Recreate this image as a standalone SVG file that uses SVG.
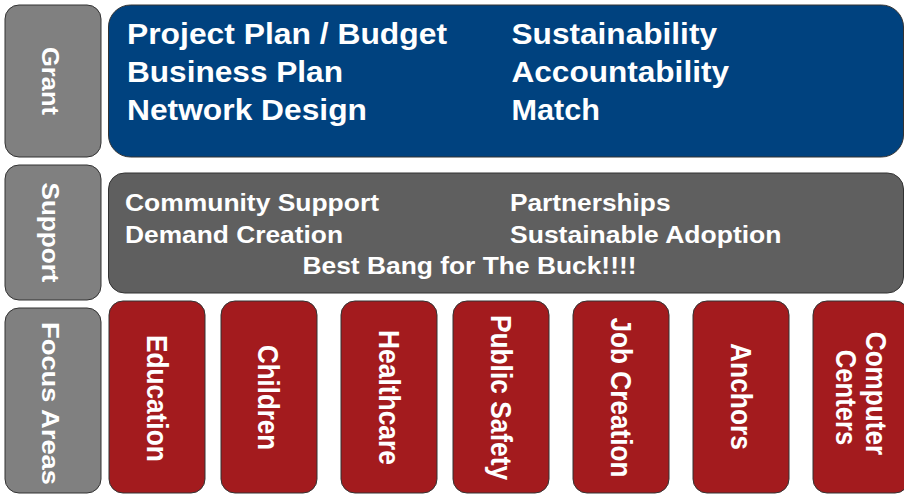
<svg xmlns="http://www.w3.org/2000/svg" width="904" height="495" viewBox="0 0 904 495">
<style>
.lbl{fill:#808080;stroke:#333;stroke-width:1}
.blue{fill:#00427f;stroke:#333;stroke-width:1}
.gray{fill:#5f5f5f;stroke:#333;stroke-width:1}
.red{fill:#a31b1e;stroke:#333;stroke-width:1}
text{font-family:"Liberation Sans",Arial,sans-serif;font-weight:bold;fill:#fff}
.g{font-size:29px}
.s{font-size:23.5px}
.v{font-size:23px;text-anchor:middle}
.f{font-size:29px;text-anchor:middle}
</style>
<rect width="904" height="495" fill="#fff"/>
<g id="grant-label">
<rect class="lbl" x="5" y="5" width="96" height="152" rx="14"/>
<text class="v" transform="translate(42,81) rotate(90)" textLength="68" lengthAdjust="spacingAndGlyphs">Grant</text>
</g>
<g id="grant">
<rect class="blue" x="108.5" y="5" width="795" height="152" rx="22"/>
<text class="g" x="127" y="43.5" textLength="320" lengthAdjust="spacingAndGlyphs">Project Plan / Budget</text>
<text class="g" x="127" y="81.5" textLength="216" lengthAdjust="spacingAndGlyphs">Business Plan</text>
<text class="g" x="127" y="119.5" textLength="240" lengthAdjust="spacingAndGlyphs">Network Design</text>
<text class="g" x="511.5" y="43.5" textLength="205.5" lengthAdjust="spacingAndGlyphs">Sustainability</text>
<text class="g" x="511.5" y="81.5" textLength="217.5" lengthAdjust="spacingAndGlyphs">Accountability</text>
<text class="g" x="511.5" y="119.5" textLength="88.5" lengthAdjust="spacingAndGlyphs">Match</text>
</g>
<g id="support-label">
<rect class="lbl" x="5" y="165" width="96" height="135" rx="14"/>
<text class="v" transform="translate(42,232.5) rotate(90)" textLength="100" lengthAdjust="spacingAndGlyphs">Support</text>
</g>
<g id="support">
<rect class="gray" x="108.5" y="173" width="795" height="120" rx="16"/>
<text class="s" x="125" y="211" textLength="254" lengthAdjust="spacingAndGlyphs">Community Support</text>
<text class="s" x="125" y="242.5" textLength="218" lengthAdjust="spacingAndGlyphs">Demand Creation</text>
<text class="s" x="510" y="210.5" textLength="160.5" lengthAdjust="spacingAndGlyphs">Partnerships</text>
<text class="s" x="510" y="242.5" textLength="271.5" lengthAdjust="spacingAndGlyphs">Sustainable Adoption</text>
<text class="s" x="302.5" y="274" textLength="334" lengthAdjust="spacingAndGlyphs">Best Bang for The Buck!!!!</text>
</g>
<g id="focus-label">
<rect class="lbl" x="5" y="308" width="96" height="185" rx="14"/>
<text class="v" transform="translate(42,403.5) rotate(90)" textLength="163" lengthAdjust="spacingAndGlyphs">Focus Areas</text>
</g>
<g id="education">
<rect class="red" x="109" y="301" width="96" height="192" rx="14"/>
<text class="f" transform="translate(146.5,398.3) rotate(90)" textLength="126.7" lengthAdjust="spacingAndGlyphs">Education</text>
</g>
<g id="children">
<rect class="red" x="221" y="301" width="96" height="192" rx="14"/>
<text class="f" transform="translate(257.5,397.5) rotate(90)" textLength="105" lengthAdjust="spacingAndGlyphs">Children</text>
</g>
<g id="healthcare">
<rect class="red" x="341" y="301" width="96" height="192" rx="14"/>
<text class="f" transform="translate(378.5,397.5) rotate(90)" textLength="135" lengthAdjust="spacingAndGlyphs">Healthcare</text>
</g>
<g id="public-safety">
<rect class="red" x="453" y="301" width="96" height="192" rx="14"/>
<text class="f" transform="translate(491,397.5) rotate(90)" textLength="165" lengthAdjust="spacingAndGlyphs">Public Safety</text>
</g>
<g id="job-creation">
<rect class="red" x="573" y="301" width="96" height="192" rx="14"/>
<text class="f" transform="translate(610.7,397.5) rotate(90)" textLength="160" lengthAdjust="spacingAndGlyphs">Job Creation</text>
</g>
<g id="anchors">
<rect class="red" x="693" y="301" width="96" height="192" rx="14"/>
<text class="f" transform="translate(730.7,396.5) rotate(90)" textLength="107" lengthAdjust="spacingAndGlyphs">Anchors</text>
</g>
<g id="computer-centers">
<rect class="red" x="813" y="301" width="96" height="192" rx="14"/>
<text class="f" transform="translate(866,393.5) rotate(90)" textLength="123.5" lengthAdjust="spacingAndGlyphs">Computer</text>
<text class="f" transform="translate(835.5,397.5) rotate(90)" textLength="95.5" lengthAdjust="spacingAndGlyphs">Centers</text>
</g>
<g id="connectors"/>
</svg>
